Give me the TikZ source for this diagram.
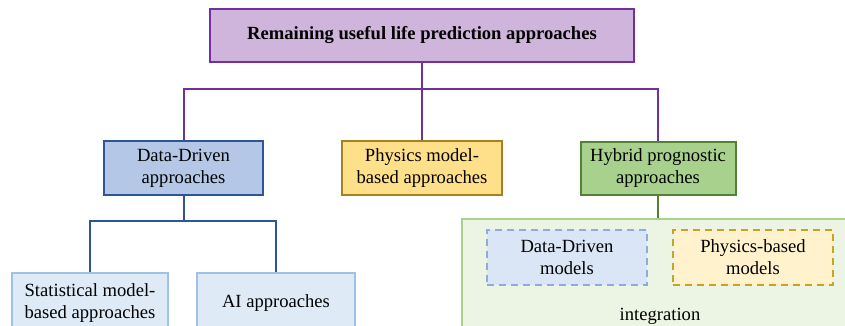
\documentclass[tikz,border=0pt]{standalone}
\usepackage{fontspec}
\setmainfont{Liberation Serif}
\usepackage{tikz}
\usepackage{xcolor}
\usetikzlibrary{positioning}

\definecolor{purpfill}{HTML}{CFB4DB}
\definecolor{purpdraw}{HTML}{7030A0}
\definecolor{bluefill}{HTML}{B4C7E7}
\definecolor{bluedraw}{HTML}{2F5597}
\definecolor{lbluefill}{HTML}{DEEBF7}
\definecolor{lbluedraw}{HTML}{9DC3E6}
\definecolor{yelfill}{HTML}{FFE08A}
\definecolor{yeldraw}{HTML}{A5821E}
\definecolor{grnfill}{HTML}{A9D18E}
\definecolor{grndraw}{HTML}{548235}
\definecolor{lgrnfill}{HTML}{ECF4E4}
\definecolor{lgrndraw}{HTML}{A9D18E}
\definecolor{dbfill}{HTML}{DAE6F5}
\definecolor{dbdraw}{HTML}{8FAADC}
\definecolor{pbfill}{HTML}{FFF2CC}
\definecolor{pbdraw}{HTML}{C9A227}

\begin{document}
\begin{tikzpicture}
  [x=1pt,y=-1pt,every node/.style={rectangle,inner sep=0pt,align=center,
   font=\fontsize{18.6}{22}\selectfont},
   box/.style={draw,line width=2pt,minimum width=#1},
   conn/.style={line width=2pt}]
  \clip (0,0) rectangle (845,326);
  \node[box=424,minimum height=53,fill=purpfill,draw=purpdraw] (root) at (422,35.5)
    {\textbf{Remaining useful life prediction approaches}};
  \node[box=159,minimum height=54,fill=bluefill,draw=bluedraw] (dd) at (183.5,168) {Data-Driven\\approaches};
  \node[box=160,minimum height=54,fill=yelfill,draw=yeldraw] (ph) at (422,168) {Physics model-\\based approaches};
  \node[box=155,minimum height=53,fill=grnfill,draw=grndraw] (hy) at (658,168) {Hybrid prognostic\\approaches};
  \node[box=156,minimum height=60,fill=lbluefill,draw=lbluedraw] (stat) at (90,303) {Statistical model-\\based approaches};
  \node[box=158,minimum height=60,fill=lbluefill,draw=lbluedraw] (ai) at (276,303) {AI approaches};
  \node[box=400,minimum height=125,fill=lgrnfill,draw=lgrndraw] (integ) at (662,281.5) {};
  \node[box=160,minimum height=55,fill=dbfill,draw=dbdraw,dash pattern=on 7pt off 5pt] (dm) at (567,257.5) {Data-Driven\\models};
  \node[box=160,minimum height=55,fill=pbfill,draw=pbdraw,dash pattern=on 7pt off 5pt] (pm) at (753,257.5) {Physics-based\\models};
  \node (intx) at (660,316) {integration};

  \foreach \to in {dd,hy}
    \draw[conn,purpdraw] (root.south) -- ++(0,26) -| (\to.north);
  \draw[conn,purpdraw] (root) -- (ph);
  \foreach \to in {stat,ai}
    \draw[conn,bluedraw] (dd.south) -- ++(0,25) -| (\to.north);
  \draw[conn,grndraw] (hy.south) -- (hy.south |- integ.north);
\end{tikzpicture}
\end{document}
